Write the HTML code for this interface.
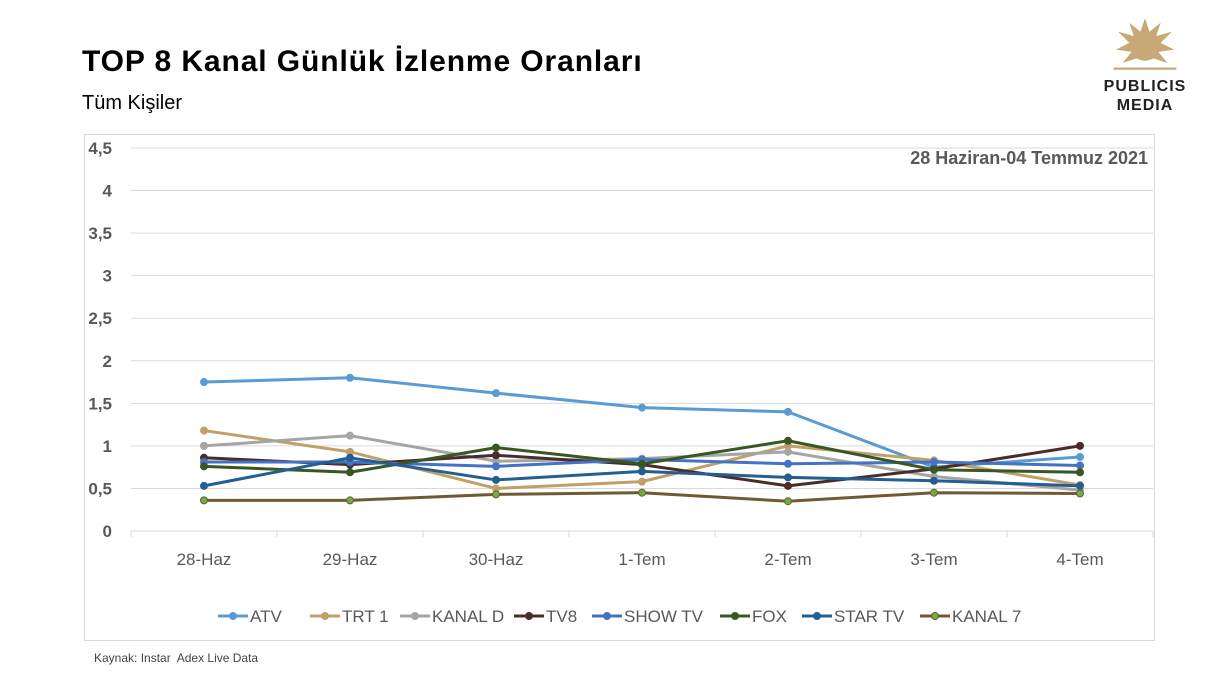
<!DOCTYPE html>
<html><head><meta charset="utf-8"><style>
body{margin:0;width:1211px;height:677px;background:#fff;font-family:"Liberation Sans",sans-serif;position:relative;overflow:hidden}
.t{position:absolute}
</style></head><body>
<div class="t" style="left:82px;top:45px;font-size:30px;letter-spacing:0.9px;font-weight:bold;color:#000">TOP 8 Kanal Günlük İzlenme Oranları</div>
<div class="t" style="left:82px;top:92px;font-size:20px;color:#000">Tüm Kişiler</div>
<div class="t" style="left:1085px;top:16px;width:120px;text-align:center">
<svg width="70" height="56" viewBox="0 0 60 50"><g fill="#c9a877"><circle cx="30" cy="28" r="12"/><path d="M30 2 L34 14 L44 6 L40 18 L54 14 L44 24 L56 30 L42 32 L50 42 L38 38 L30 40 L22 38 L10 42 L18 32 L4 30 L16 24 L6 14 L20 18 L16 6 L26 14Z"/></g><rect x="2" y="46" width="56" height="2" fill="#c9a877"/></svg>
<div style="font-size:16px;font-weight:bold;letter-spacing:1px;color:#222;line-height:19px">PUBLICIS<br>MEDIA</div></div>
<div class="t" style="left:94px;top:651px;font-size:12px;color:#444">Kaynak: Instar&nbsp; Adex Live Data</div>
<svg class="t" style="left:0;top:0" width="1211" height="677" id="chart">
<rect x="84.5" y="134.5" width="1070" height="506" fill="none" stroke="#d9d9d9"/>
<text x="1148" y="164" text-anchor="end" font-size="18" font-weight="bold" fill="#595959">28 Haziran-04 Temmuz 2021</text>
</svg>
<script>
const categories=["28-Haz","29-Haz","30-Haz","1-Tem","2-Tem","3-Tem","4-Tem"];
const yTicks=[0,0.5,1,1.5,2,2.5,3,3.5,4,4.5];
const yTickLabels=["0","0,5","1","1,5","2","2,5","3","3,5","4","4,5"];
const seriesNames=["ATV","TRT 1","KANAL D","TV8","SHOW TV","FOX","STAR TV","KANAL 7"];
const atv=[1.75,1.80,1.62,1.45,1.40,0.75,0.87];
const trt1=[1.18,0.93,0.50,0.58,1.00,0.83,0.54];
const kanalD=[1.00,1.12,0.82,0.85,0.93,0.64,0.48];
const tv8=[0.86,0.78,0.89,0.78,0.53,0.73,1.00];
const showTv=[0.81,0.81,0.76,0.84,0.79,0.81,0.77];
const fox=[0.76,0.69,0.98,0.79,1.06,0.72,0.69];
const starTv=[0.53,0.86,0.60,0.70,0.63,0.59,0.53];
const kanal7=[0.36,0.36,0.43,0.45,0.35,0.45,0.44];
const seriesData=[atv,trt1,kanalD,tv8,showTv,fox,starTv,kanal7];
const colors=["#5b9bd5","#c0a06a","#a5a5a5","#4a2c2a","#4472c4","#385723","#255e91","#6f5a34"];
const markerFill=["#5b9bd5","#c0a06a","#a5a5a5","#4a2c2a","#4472c4","#385723","#255e91","#70ad47"];
const NS="http://www.w3.org/2000/svg";
const svg=document.getElementById('chart');
const L=131,R=1153,T=148,B=531,yMax=4.5;
const band=(R-L)/categories.length;
const x=i=>L+band*(i+0.5);
const y=v=>B-(v/yMax)*(B-T);
function mk(tag,a){const e=document.createElementNS(NS,tag);for(const k in a)e.setAttribute(k,a[k]);svg.appendChild(e);return e;}
yTicks.forEach((t,i)=>{
 const g=mk('line',{x1:L,x2:R,y1:y(t),y2:y(t),stroke:'#d9d9d9','stroke-width':1});
 
 
 const tx=mk('text',{x:112,y:y(t)+6,'text-anchor':'end','font-size':17,'font-weight':'bold',fill:'#595959'});
 tx.textContent=yTickLabels[i];
 
 
});
for(let i=0;i<=categories.length;i++){
 const tk=mk('line',{x1:L+band*i,x2:L+band*i,y1:B,y2:B+6,stroke:'#d9d9d9'});
 
 
}
categories.forEach((c,i)=>{
 const tx=mk('text',{x:x(i),y:565,'text-anchor':'middle','font-size':17,fill:'#595959'});
 tx.textContent=c;
 
 
});
seriesData.forEach((d,s)=>{
 const p=mk('polyline',{points:d.map((v,i)=>x(i)+','+y(v)).join(' '),fill:'none',stroke:colors[s],'stroke-width':3,'stroke-linejoin':'round'});
 
 
 d.forEach((v,i)=>{
  const c=mk('circle',{cx:x(i),cy:y(v),r:3.5,fill:markerFill[s],stroke:colors[s],'stroke-width':1});
  
  
 });
});
const legX=[218,310,400,514,592,720,802,920];
seriesNames.forEach((n,s)=>{
 const lx=legX[s];
 const l=mk('line',{x1:lx,x2:lx+30,y1:616,y2:616,stroke:colors[s],'stroke-width':3});
 
 
 const c=mk('circle',{cx:lx+15,cy:616,r:3.5,fill:markerFill[s],stroke:colors[s]});
 
 
 const t=mk('text',{x:lx+32,y:622,'font-size':17,fill:'#595959'});
 t.textContent=n;
 
 
});
</script>
</body></html>
